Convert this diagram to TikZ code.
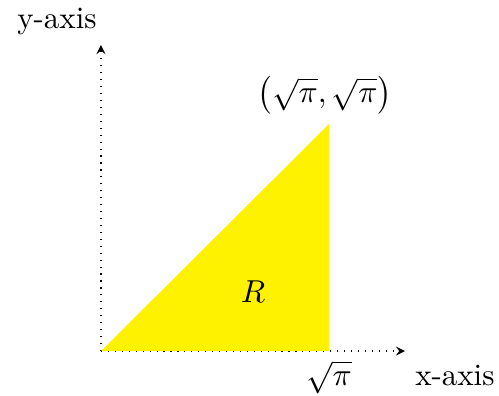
\documentclass[tikz,border=0pt]{standalone}
\usepackage{amsmath}
\begin{document}
\begin{tikzpicture}[every node/.style={font=\fontsize{10.7}{13}\selectfont},
  axis/.style={->,>=stealth,dotted,black}]
\useasboundingbox (-1.227,-0.535) rectangle (4.836,4.265);
\coordinate (origin) at (0,0);
\coordinate (xend) at (3.694,0);
\coordinate (yend) at (0,3.718);
\coordinate (base) at (2.77,0);
\coordinate (apex) at (2.77,2.758);
% axes
\draw[axis] (origin) -- (xend);
\draw[axis] (origin) -- (yend);
% region
\fill[yellow] (origin) -- (base) -- (apex) -- cycle;
\node (xlab) at (4.30,-0.30) {x-axis};
\node (ylab) at (-0.535,4.0) {y-axis};
\node (root) at (2.77,-0.316) {$\sqrt{\pi}$};
\node (corner) at (2.72,3.11) {$\bigl(\sqrt{\pi},\sqrt{\pi}\bigr)$};
\node (R) at (1.847,0.717) {$R$};
\end{tikzpicture}
\end{document}
